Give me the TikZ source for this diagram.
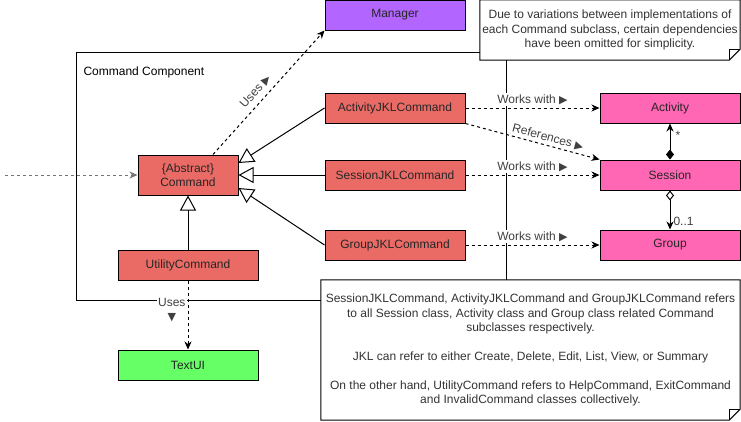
\documentclass[tikz,border=0pt]{standalone}
\usepackage{fontspec}
\setmainfont{Liberation Sans}
\newfontfamily\symfont{DejaVu Sans}
\usetikzlibrary{arrows.meta,calc}
\definecolor{cmdred}{HTML}{EA6B66}
\definecolor{mgrpurple}{HTML}{B266FF}
\definecolor{clspink}{HTML}{FF66B3}
\definecolor{uigreen}{HTML}{66FF66}
\newcommand{\pointr}{{\symfont\fontsize{11}{11}\selectfont ▶}}
\newcommand{\pointd}{{\symfont\fontsize{11}{11}\selectfont ▼}}
\tikzset{
  box/.style={draw, line width=1pt, minimum width=140pt, minimum height=30pt,
    inner sep=0pt, text=black!85},
  frame/.style={draw, line width=1pt, minimum width=430pt, minimum height=248pt},
  note/.style={fill=white, align=center, inner sep=0pt, text=black!80},
  noteline/.style={line width=1pt, line join=miter},
  lbl/.style={text=black!75, fill=white, inner sep=1pt},
  dep/.style={line width=1pt, dash pattern=on 3pt off 3pt,
    -{Stealth[length=8pt,width=7pt,inset=2.5pt]}},
  inh/.style={line width=1pt, -{Triangle[fill=white,length=15pt,width=16pt]}},
  comp/.style={line width=1pt,
    {Diamond[length=10pt,width=8pt]}-{Stealth[length=8pt,width=7pt,inset=2.5pt]}},
  aggr/.style={line width=1pt,
    {Diamond[fill=white,length=10pt,width=8pt]}-{Stealth[length=8pt,width=7pt,inset=2.5pt]}},
}
\begin{document}
\begin{tikzpicture}[x=1pt, y=-1pt, font=\fontsize{12}{14.4}\selectfont]
      \useasboundingbox (0,0) rectangle (741,421);
      \node[frame] (F) at (291,176) {};
      \node[anchor=west] (Ft) at (80,72) {Command Component};
      \node[note, minimum width=260pt, minimum height=60pt] (N1) at (610,30)
        {Due to variations between implementations of\\each Command subclass, certain dependencies\\have been omitted for simplicity.};
      \draw[noteline] (N1.north west) -- (N1.north east) -- ($(N1.south east)+(0,-11)$)
        -- ($(N1.south east)+(-11,0)$) -- (N1.south west) -- cycle;
      \draw[noteline] ($(N1.south east)+(0,-11)$) -- ($(N1.south east)+(-11,-11)$)
        -- ($(N1.south east)+(-11,0)$);
      \node[note, minimum width=419pt, minimum height=140pt] (N2) at (530.5,350)
        {SessionJKLCommand, ActivityJKLCommand and GroupJKLCommand refers\\to all Session class, Activity class and Group class related Command\\subclasses respectively.\\[14.4pt]JKL can refer to either Create, Delete, Edit, List, View, or Summary\\[14.4pt]On the other hand, UtilityCommand refers to HelpCommand, ExitCommand\\and InvalidCommand classes collectively.};
      \draw[noteline] (N2.north west) -- (N2.north east) -- ($(N2.south east)+(0,-11)$)
        -- ($(N2.south east)+(-11,0)$) -- (N2.south west) -- cycle;
      \draw[noteline] ($(N2.south east)+(0,-11)$) -- ($(N2.south east)+(-11,-11)$)
        -- ($(N2.south east)+(-11,0)$);
      \node[box, fill=mgrpurple] (M) at (395,15) {Manager};
      \node[box, fill=cmdred, minimum width=100pt, minimum height=40pt, align=center] (C) at (188,175) {\{Abstract\}\\Command};
      \node[box, fill=cmdred] (AJ) at (395,108) {ActivityJKLCommand};
      \node[box, fill=cmdred] (SJ) at (395,175) {SessionJKLCommand};
      \node[box, fill=cmdred] (GJ) at (395,245) {GroupJKLCommand};
      \node[box, fill=clspink] (A) at (670,108) {Activity};
      \node[box, fill=clspink] (S) at (670,175) {Session};
      \node[box, fill=clspink] (G) at (670,245) {Group};
      \node[box, fill=cmdred] (U) at (188,265) {UtilityCommand};
      \node[box, fill=uigreen] (T) at (188,365) {TextUI};
      \coordinate (In) at (5,175);
      \draw[dep, black!55] (In) to (C);
      \draw[dep] ($(C.north)+(25,0)$) to node[lbl, sloped, above=4pt, pos=0.45] {Uses \pointr} (M.south west);
      \draw[inh] (AJ.west) to ($(C.east)+(0,-12)$);
      \draw[inh] (SJ.west) to (C.east);
      \draw[inh] (GJ.west) to ($(C.east)+(0,13)$);
      \draw[inh] (U) to (C);
      \draw[dep] (AJ) to node[lbl, above=2pt] {Works with \pointr} (A);
      \draw[dep] (SJ) to node[lbl, above=2pt] {Works with \pointr} (S);
      \draw[dep] (GJ) to node[lbl, above=2pt] {Works with \pointr} (G);
      \draw[dep] (AJ.south east) to node[lbl, sloped, above=1.5pt, pos=0.6] {References \pointr} (S.north west);
      \draw[comp] (S) to node[lbl, fill=none, pos=0.68, right=4pt] {*} (A);
      \draw[aggr] (S) to node[lbl, fill=none, pos=0.8, right=2pt] {0..1} (G);
      \draw[dep] (U) to node[lbl, left=1pt, pos=0.43, align=center] {Uses\\\pointd} (T);
    \end{tikzpicture}
\end{document}
